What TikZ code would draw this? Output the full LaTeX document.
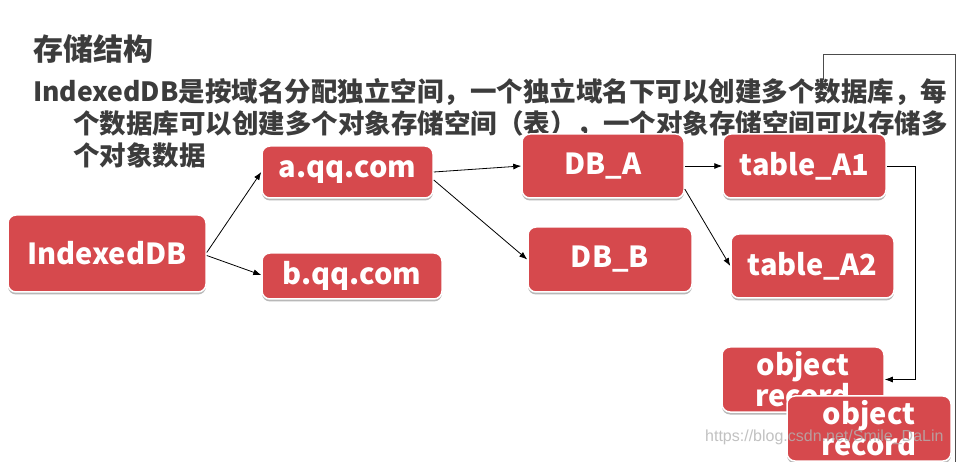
\documentclass[tikz,border=0pt]{standalone}
\usepackage{fontspec}
\setmainfont{Noto Sans CJK SC}
\newfontfamily\wmfont{Liberation Sans}
\usetikzlibrary{arrows.meta,shadows}
\definecolor{boxred}{HTML}{D6494D}
\definecolor{txtgray}{HTML}{3C3C3C}
\tikzset{
  redbox/.style={rectangle, rounded corners=8pt, fill=boxred, draw=white, line width=1.5pt,
    text=white, font=\fontsize{29}{31}\selectfont\bfseries, align=center, inner sep=0pt,
    drop shadow={shadow xshift=0pt, shadow yshift=-2.5pt, fill=black!28, opacity=1}},
  conn/.style={draw=black, line width=0.8pt, -{Latex[length=8pt,width=6pt]}},
  plainline/.style={draw=black!70, line width=0.8pt},
  bodytext/.style={anchor=base west, inner sep=0pt, text=txtgray, font=\fontsize{26.5}{32}\selectfont\bfseries},
}
\begin{document}
\begin{tikzpicture}[x=1pt,y=-1pt]
\useasboundingbox (0,0) rectangle (959,462);
\fill[white] (0,0) rectangle (959,462);

% frame line on the right
\coordinate (fstart) at (823,80);
\coordinate (fend) at (955,462);
\draw[plainline] (fstart) -- (823,54) -- (955,54) -- (fend);

% texts
\node[bodytext, font=\fontsize{30}{32}\selectfont\bfseries] (title) at (33,61) {存储结构};
\node[bodytext] (l1) at (33,102) {IndexedDB是按域名分配独立空间，一个独立域名下可以创建多个数据库，每};
\node[bodytext] (l2) at (73,134) {个数据库可以创建多个对象存储空间（表），一个对象存储空间可以存储多};
\node[bodytext] (l3) at (73,166) {个对象数据};

% boxes
\node[redbox, minimum width=198pt, minimum height=77pt] (idb) at (107,253.5) {IndexedDB};
\node[redbox, minimum width=171pt, minimum height=52pt] (aqq) at (347.5,172) {a.qq.com};
\node[redbox, minimum width=180pt, minimum height=46pt] (bqq) at (352,276) {b.qq.com};
\node[redbox, minimum width=162pt, minimum height=64pt] (dba) at (603,166) {DB\_A};
\node[redbox, minimum width=163pt, minimum height=64pt] (ta1) at (804.5,166) {table\_A1};
\node[redbox, minimum width=164pt, minimum height=65pt] (dbb) at (610,259.5) {DB\_B};
\node[redbox, minimum width=163pt, minimum height=64pt] (ta2) at (812.5,266) {table\_A2};
\node[redbox, minimum width=162pt, minimum height=65pt] (or1) at (803,379.5) {object\\record};
\node[redbox, minimum width=164pt, minimum height=65pt] (or2) at (869,428.5) {object\\record};

% connectors
\draw[conn] ([yshift=1pt]idb.east) -- (aqq.west);
\draw[conn] ([yshift=-2pt]idb.east) -- ([yshift=1pt]bqq.west);
\draw[conn] (aqq.east) -- (dba.west);
\draw[conn] ([yshift=-8pt]aqq.east) -- (dbb.west);
\draw[conn] (dba.east) -- (ta1.west);
\draw[conn] ([yshift=-23pt]dba.east) -- (ta2.west);
\draw[conn] (ta1.east) -- ++(29,0) |- (or1.east);

% watermark
\node[anchor=west, inner sep=0pt, text=gray!60, opacity=0.8, font=\wmfont\fontsize{16}{18}\selectfont] (wm) at (705,437) {https://blog.csdn.net/Smile\_DaLin};
\end{tikzpicture}
\end{document}
